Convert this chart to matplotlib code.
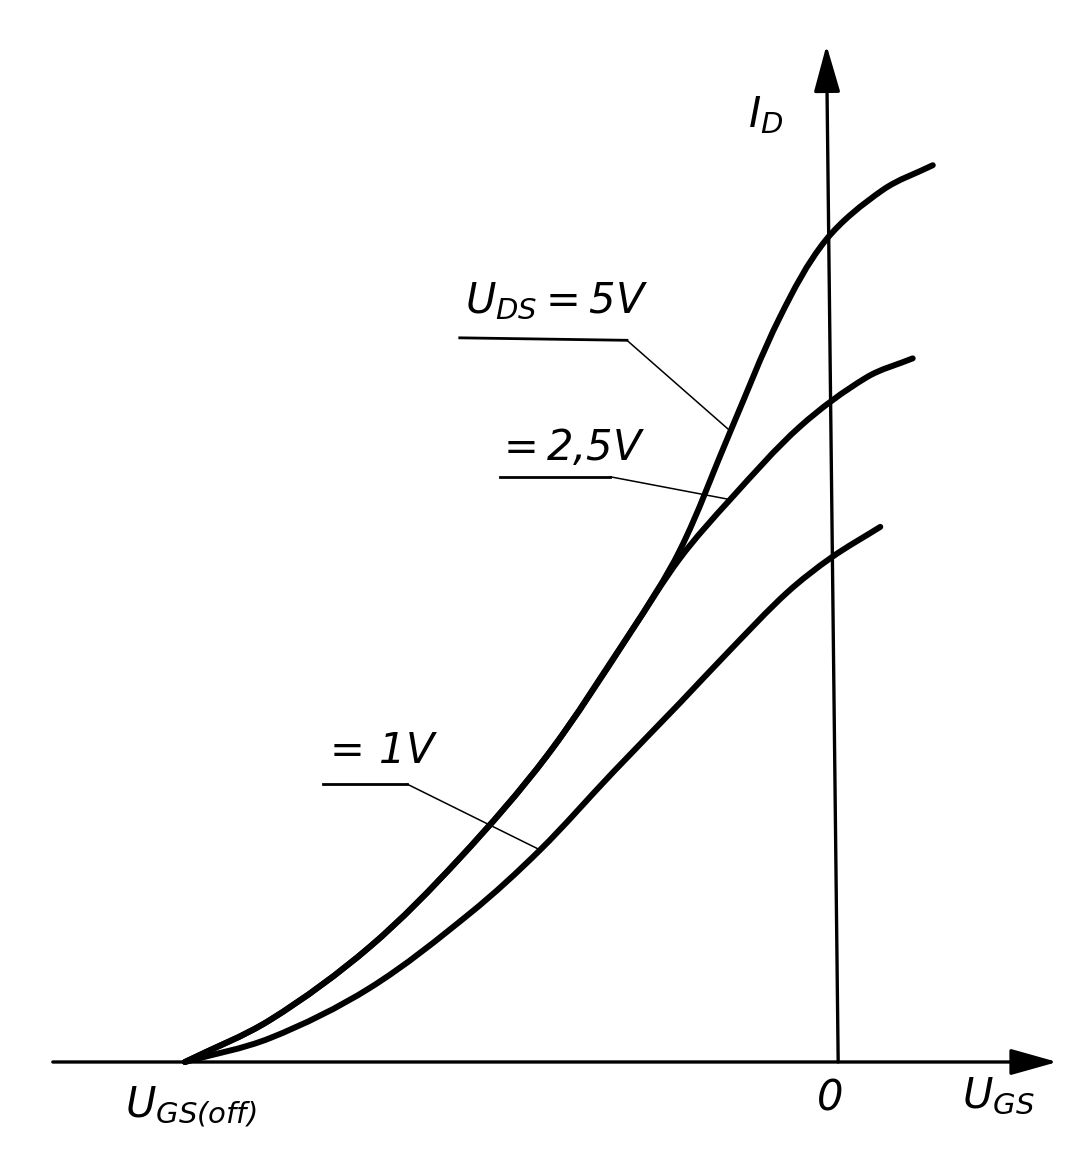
import matplotlib
matplotlib.use("Agg")
import matplotlib.pyplot as plt
import numpy as np
from matplotlib.path import Path
from matplotlib.patches import PathPatch

# transfer characteristic I_D(U_GS) of a JFET, normalised:
# U_GS = -1 at U_GS(off), I_D = 1 where the 5 V curve crosses the I_D axis
ugs_5v = [-1.000, -0.869, -0.715, -0.576, -0.441, -0.313, -0.236, -0.159,
          -0.082, -0.011, 0.077, 0.154]
id_5v = [0.000, 0.051, 0.140, 0.248, 0.373, 0.522, 0.623, 0.766,
         0.906, 1.000, 1.061, 1.091]

ugs_2v5 = [-1.000, -0.869, -0.715, -0.576, -0.441, -0.313, -0.236, -0.159,
           -0.051, 0.052, 0.123]
id_2v5 = [0.000, 0.051, 0.140, 0.248, 0.373, 0.522, 0.613, 0.684,
          0.773, 0.833, 0.856]

ugs_1v = [-1.000, -0.869, -0.715, -0.560, -0.452, -0.340, -0.236, -0.159,
          -0.071, -0.002, 0.073]
id_1v = [0.000, 0.029, 0.090, 0.181, 0.258, 0.352, 0.437, 0.501,
         0.571, 0.614, 0.651]

curve_labels = [r"$U_{DS} = 5V$", r"$=2{,}5V$", r"$=\,1V$"]

plt.rcParams["mathtext.fontset"] = "custom"
plt.rcParams["mathtext.it"] = "DejaVu Sans:italic"
plt.rcParams["mathtext.rm"] = "DejaVu Sans:italic"
plt.rcParams["mathtext.default"] = "it"

fig = plt.figure(figsize=(10.71, 11.58), dpi=100)
ax = fig.add_axes([0, 0, 1, 1])
ax.set_xlim(-1.2855, 0.3673)
ax.set_ylim(-0.1168, 1.2920)
ax.axis("off")


def smooth_path(xs, ys):
    # smooth curve through the read points (chord-length cubic Bezier segments)
    p = np.column_stack([xs, ys])
    d = np.linalg.norm(np.diff(ax.transData.transform(p), axis=0), axis=1)
    m = np.zeros_like(p)
    m[0] = (p[1] - p[0]) / d[0]
    m[-1] = (p[-1] - p[-2]) / d[-1]
    for k in range(1, len(p) - 1):
        m[k] = (p[k + 1] - p[k - 1]) / (d[k - 1] + d[k])
    verts = [p[0]]
    codes = [Path.MOVETO]
    for k in range(len(p) - 1):
        verts += [p[k] + m[k] * d[k] / 3, p[k + 1] - m[k + 1] * d[k] / 3, p[k + 1]]
        codes += [Path.CURVE4] * 3
    return Path(verts, codes)


# axes with arrow heads
arrow = dict(arrowstyle="-|>,head_length=1.6,head_width=0.45", lw=2.4, color="black",
             shrinkA=0, shrinkB=0, mutation_scale=18)
ax.annotate("", xy=(0.346, 0), xytext=(-1.204, 0), arrowprops=arrow)
ax.annotate("", xy=(-0.010, 1.237), xytext=(0.008, 0), arrowprops=arrow)

for xs, ys in [(ugs_5v, id_5v), (ugs_2v5, id_2v5), (ugs_1v, id_1v)]:
    ax.add_patch(PathPatch(smooth_path(xs, ys), facecolor="none", edgecolor="black",
                           lw=4.3, capstyle="round", joinstyle="round"))

# leader lines to the curves
ax.plot([-0.576, -0.318], [0.881, 0.878], color="black", lw=2.0)
ax.plot([-0.318, -0.159], [0.878, 0.768], color="black", lw=1.1)
ax.plot([-0.514, -0.344], [0.712, 0.712], color="black", lw=2.0)
ax.plot([-0.344, -0.164], [0.712, 0.685], color="black", lw=1.1)
ax.plot([-0.787, -0.657], [0.338, 0.338], color="black", lw=2.0)
ax.plot([-0.657, -0.452], [0.338, 0.258], color="black", lw=1.1)

fs = 30
ax.text(-0.568, 0.911, curve_labels[0], fontsize=fs, va="baseline")
ax.text(-0.522, 0.732, curve_labels[1], fontsize=fs, va="baseline")
ax.text(-0.790, 0.364, curve_labels[2], fontsize=fs, va="baseline")

ax.text(-0.131, 1.137, r"$I_D$", fontsize=fs, va="baseline")
ax.text(-1.093, -0.068, r"$U_{GS(off)}$", fontsize=fs, va="baseline")
ax.text(-0.026, -0.058, r"$0$", fontsize=fs, va="baseline")
ax.text(0.199, -0.056, r"$U_{GS}$", fontsize=fs, va="baseline")

fig.savefig("out.png", dpi=100, facecolor="white")
